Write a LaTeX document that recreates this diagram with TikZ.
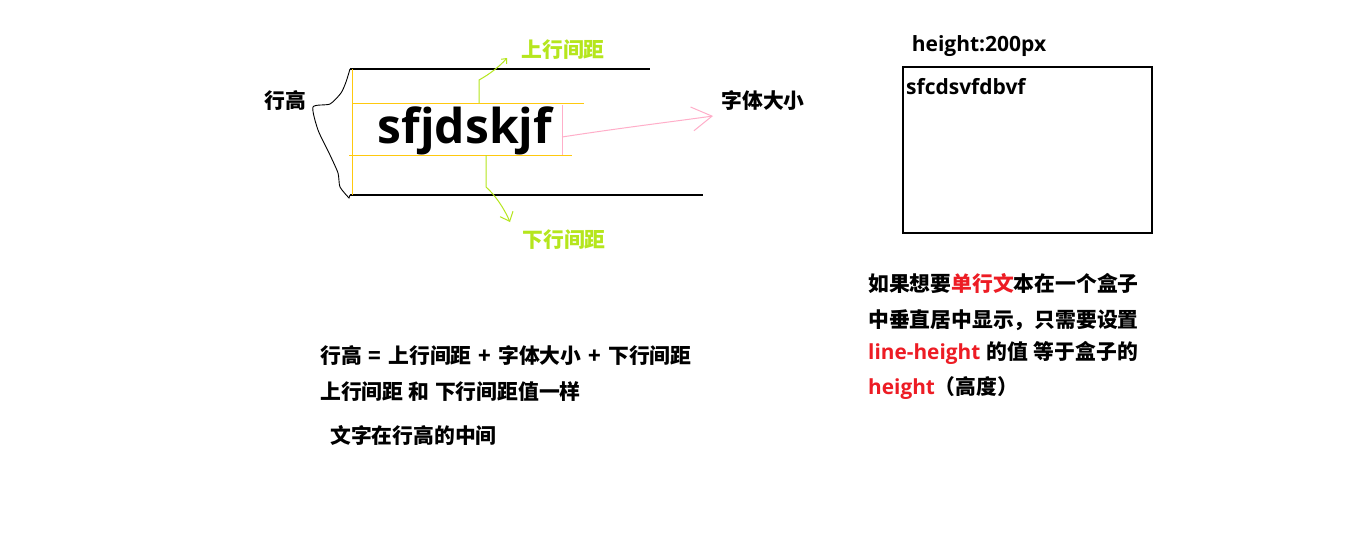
\documentclass[tikz,border=0pt]{standalone}
\usepackage{fontspec}
\setmainfont{Noto Sans CJK SC}
\newfontfamily\latinf{Open Sans}
\usetikzlibrary{arrows.meta}
\definecolor{pgreen}{RGB}{181,230,29}
\definecolor{porange}{RGB}{255,201,14}
\definecolor{ppink}{RGB}{255,174,201}
\definecolor{pred}{RGB}{237,28,36}
\begin{document}
\begin{tikzpicture}[x=1pt,y=-1pt,
  txt/.style={inner sep=0pt, font=\bfseries\fontsize{20.8}{24}\selectfont},
  gtxt/.style={txt, text=pgreen},
  blk/.style={black, line width=1.1pt},
  oline/.style={porange, line width=0.9pt},
  gline/.style={pgreen, line width=1pt},
  pline/.style={ppink, line width=1pt}]
\useasboundingbox[fill=white] (0,0) rectangle (1357,539);

% guide lines
\coordinate (tl) at (350,69);  \coordinate (tr) at (650,69);
\coordinate (bl) at (350,195); \coordinate (br) at (703,195);
\draw[blk] (tl) -- (tr);
\draw[blk] (bl) -- (br);
\coordinate (ovt) at (352,69); \coordinate (ovb) at (352,195);
\draw[oline] (ovt) -- (ovb);
\coordinate (o1a) at (352,103); \coordinate (o1b) at (584,103);
\coordinate (o2a) at (349,155); \coordinate (o2b) at (572,155);
\draw[oline] (o1a) -- (o1b);
\draw[oline] (o2a) -- (o2b);
\coordinate (pvt) at (562,105); \coordinate (pvb) at (562,155);
\draw[pline] (pvt) -- (pvb);

% main word
\node[anchor=base, inner sep=0pt, font=\latinf\bfseries\fontsize{48}{56}\selectfont] (word) at (465,143) {sfjdskjf};

% labels
\node[txt] (hang) at (285,100) {行高};
\node[txt] (zt) at (763,100) {字体大小};
\node[gtxt] (sh) at (563,50) {上行间距};
\node[gtxt] (xh) at (564,240) {下行间距};

% left brace-like curve
\draw[black, line width=0.9pt] (tl) plot[smooth, tension=0.4] coordinates {(350,69) (346,82) (341,93) (330,104) (313,107) (318,130) (330,155) (338,173) (340,187) (349,198)} -- (bl);

% green connectors
\coordinate (ug) at (479,103); \coordinate (ugtip) at (507,58);
\draw[gline, -{Straight Barb[length=4pt,width=7pt]}] (ug) -- (479,80) .. controls (490,74) and (500,66) .. (ugtip);
\coordinate (dg) at (486,155); \coordinate (dgtip) at (510,222);
\draw[gline, -{Straight Barb[length=8pt,width=14pt]}] (dg) -- (486,187) .. controls (495,195) and (504,208) .. (dgtip);

% pink connector
\coordinate (pst) at (562,137); \coordinate (ptip) at (713,116);
\draw[pline, -{Straight Barb[length=20pt,width=24pt]}] (pst) .. controls (620,128) and (670,122) .. (ptip);

% right box
\node[anchor=center, inner sep=0pt, font=\latinf\bfseries\fontsize{21}{24}\selectfont] (hpx) at (979,46) {height:200px};
\coordinate (b1) at (903,67); \coordinate (b2) at (1152,233);
\draw[blk] (b1) rectangle (b2);
\node[anchor=west, inner sep=0pt, font=\latinf\bfseries\fontsize{21}{24}\selectfont] (sfc) at (906,87) {sfcdsvfdbvf};

% bottom-left text
\node[txt, anchor=west] (l1) at (320,355) {行高\hspace{7pt}=\hspace{7pt}上行间距\hspace{7pt}+\hspace{7pt}字体大小\hspace{7pt}+\hspace{7pt}下行间距};
\node[txt, anchor=west] (l2) at (320,392) {上行间距\hspace{5pt}和\hspace{6pt}下行间距值一样};
\node[txt, anchor=west] (l3) at (330,435) {文字在行高的中间};

% right text
\node[txt, anchor=west] (r1) at (868,283) {如果想要\textcolor{pred}{单行文}本在一个盒子};
\node[txt, anchor=west] (r2) at (868,320) {中垂直居中显示，只需要设置};
\node[txt, anchor=west] (r3) at (868,353) {\textcolor{pred}{\latinf line-height}\hspace{6pt}的值\hspace{6pt}等于盒子的};
\node[txt, anchor=west] (r4) at (868,388) {\textcolor{pred}{\latinf height}（高度）};
\end{tikzpicture}
\end{document}
